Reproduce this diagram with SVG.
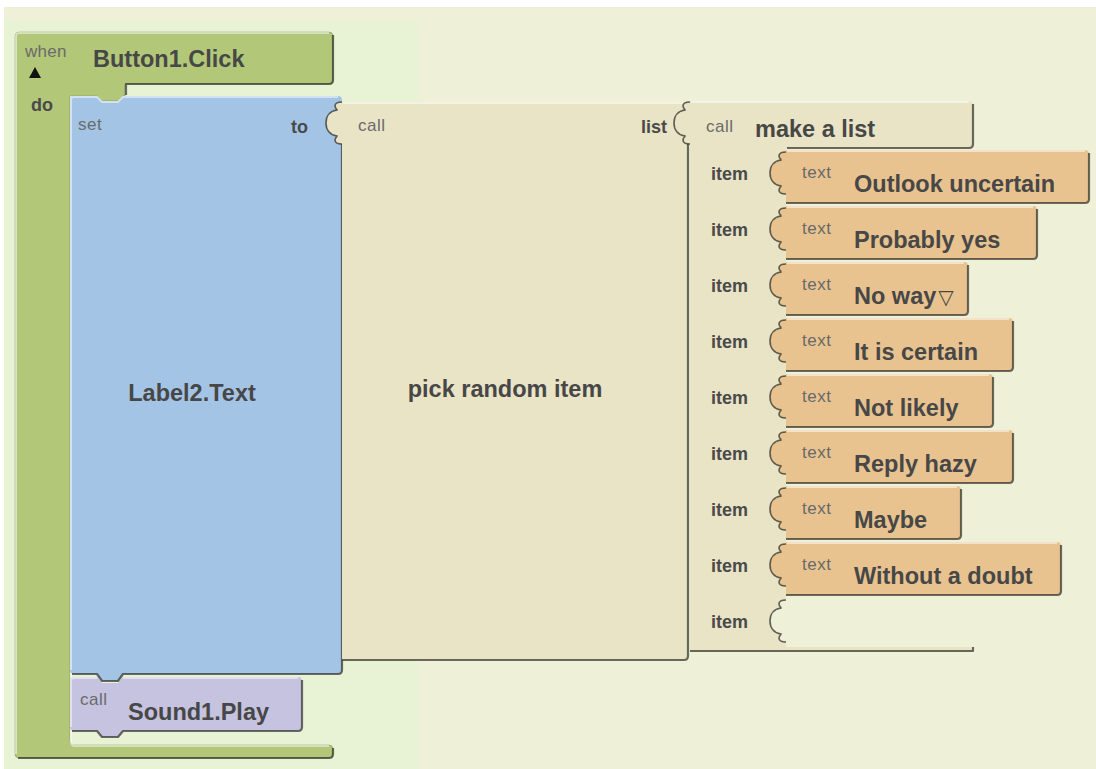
<svg xmlns="http://www.w3.org/2000/svg" xmlns:xlink="http://www.w3.org/1999/xlink" width="1096" height="769" viewBox="0 0 1096 769">
  <style>
    .lbl { font-family: "Liberation Sans", Arial, sans-serif; font-weight: bold; font-size: 23.5px; fill: #474747; }
    .kw { font-family: "Liberation Sans", Arial, sans-serif; font-weight: bold; font-size: 18px; fill: #4a4a4a; }
    .sm { font-family: "Liberation Sans", Arial, sans-serif; font-size: 17px; fill: #6a6a6a; letter-spacing: 0.5px; }
    .green { fill: #B2C878; }
    .blue { fill: #A4C4E6; }
    .beige { fill: #E9E4C5; }
    .orange { fill: #E8C38F; }
    .purple { fill: #C5C3DF; }
    .sh { fill: none; stroke: #2f2f2a; stroke-opacity: 0.7; stroke-width: 2.2; stroke-linejoin: round; }
    .hi { fill: none; stroke: #ffffff; stroke-opacity: 0.5; stroke-width: 2; }
    .edge { fill: none; stroke: #000; stroke-opacity: 0.18; stroke-width: 1; }
    .plug { stroke: #3a3a34; stroke-width: 1.6; stroke-opacity: 0.8; }
  </style>
  <defs>
    <!-- plug on the left side of a value block; open path so the block edge is not stroked -->
    <path id="tab" d="M0,2 C-4,2 -7,3 -7,6 C-7,8 -5,9 -5,10 C-12,11 -16,16 -16,23 C-16,30 -12,35 -5,36 C-5,37 -7,38 -7,40 C-7,43 -4,44 0,44"/>
  </defs>

  <!-- workspace -->
  <rect x="0" y="0" width="1096" height="769" fill="#ffffff"/>
  <rect x="4" y="7" width="1092" height="762" fill="#EEF1D8"/>
  <rect x="4" y="20" width="414" height="749" fill="#E8F2D4"/>

  <!-- event block -->
  <g id="when-button1-click">
    <path class="green" d="M15,36 Q15,32 19,32 H329 Q333,32 333,36 V80 Q333,84 329,84 H125 V96 H123 L118,101 H102 L97,96 H70 V741 Q70,745 74,745 H329 Q333,745 333,749 V754 Q333,758 329,758 H19 Q15,758 15,754 Z"/>
    <path class="edge" d="M15,36 Q15,32 19,32 H329 Q333,32 333,36 V80 Q333,84 329,84 H125 V96 H123 L118,101 H102 L97,96 H70 V741 Q70,745 74,745 H329 Q333,745 333,749 V754 Q333,758 329,758 H19 Q15,758 15,754 Z"/>
    <path class="hi" d="M16,754 V36 Q16,33 19,33 H329"/>
    <path class="hi" d="M71,96 V741 Q71,746 75,746 H329"/>
    <path class="sh" d="M333,35 V80 Q333,84 329,84 H126 V95"/>
    <path class="sh" d="M333,748 V754 Q333,758 329,758 H18"/>
    <text class="sm" x="25" y="57" style="font-size:17px;letter-spacing:0.3px">when</text>
    <path d="M29,78 L35,67 L41,78 Z" fill="#111"/>
    <text class="lbl" x="93" y="67">Button1.Click</text>
    <text class="kw" x="31" y="111">do</text>
  </g>

  <!-- call Sound1.Play -->
  <g id="sound1-play">
    <path class="purple" d="M70,681 Q70,677 74,677 H97 L102,683 H118 L123,677 H298 Q302,677 302,681 V727 Q302,731 298,731 H123 L118,737 H102 L97,731 H74 Q70,731 70,727 Z"/>
    <path class="hi" d="M71,727 V681 Q71,678 74,678 H97 M123,678 H298"/>
    <path class="sh" d="M302,680 V727 Q302,731 298,731 H123 L118,737 H102 L97,731 H72"/>
    <text class="sm" x="80" y="705">call</text>
    <text class="lbl" x="128" y="720">Sound1.Play</text>
  </g>

  <!-- set Label2.Text to -->
  <g id="set-label2-text">
    <path class="blue" d="M74,96 H97 L102,101 H118 L123,96 H338 Q342,96 342,100 V670 Q342,674 338,674 H123 L118,681 H102 L97,674 H74 Q70,674 70,670 V100 Q70,96 74,96 Z"/>
    <path class="hi" d="M71,670 V100 Q71,97 74,97 H97 L102,102 H118 L123,97 H338"/>
    <path class="sh" d="M342,140 V670 Q342,674 338,674 H123 L118,681 H102 L97,674 H72"/>
    <text class="sm" x="78" y="130">set</text>
    <text class="kw" x="291" y="133">to</text>
    <text class="lbl" x="192" y="401" text-anchor="middle">Label2.Text</text>
  </g>

  <!-- call pick random item -->
  <g id="pick-random-item">
    <path class="beige" d="M342,102 H684 Q688,102 688,106 V656 Q688,660 684,660 H342 Z"/>
    <path class="hi" d="M343,103 H684"/>
    <path class="sh" d="M688,144 V656 Q688,660 684,660 H342"/>
    <use href="#tab" transform="translate(342,100)" class="beige plug"/>
    <text class="sm" x="358" y="131">call</text>
    <text class="kw" x="641" y="133">list</text>
    <text class="lbl" x="505" y="397" text-anchor="middle">pick random item</text>
  </g>

  <!-- call make a list -->
  <g id="make-a-list">
    <path class="beige" d="M690,101 H969 Q973,101 973,105 V144 Q973,148 969,148 H786 V647 H971 Q973,647 973,649 V651 H690 Z"/>
    <path class="hi" d="M691,102 H969"/>
    <path class="sh" d="M973,104 V144 Q973,148 969,148 H787"/>
    <path class="sh" d="M690,651 H973 V647"/>
    <use href="#tab" transform="translate(690,100)" class="beige plug"/>
    <text class="sm" x="706" y="132">call</text>
    <text class="lbl" x="755" y="137">make a list</text>
    <text class="kw" x="711" y="180">item</text>
    <text class="kw" x="711" y="236">item</text>
    <text class="kw" x="711" y="292">item</text>
    <text class="kw" x="711" y="348">item</text>
    <text class="kw" x="711" y="404">item</text>
    <text class="kw" x="711" y="460">item</text>
    <text class="kw" x="711" y="516">item</text>
    <text class="kw" x="711" y="572">item</text>
    <text class="kw" x="711" y="628">item</text>
    <!-- empty item socket -->
    <use href="#tab" transform="translate(786,598)" fill="#EEF1D8" class="plug"/>
  </g>

  <!-- text values -->
  <g id="text-outlook-uncertain">
    <path class="orange" d="M786,150 H1085 Q1089,150 1089,154 V199 Q1089,203 1085,203 H786 Z"/>
    <path class="hi" d="M787,151 H1085"/>
    <path class="sh" d="M1089,153 V199 Q1089,203 1085,203 H786"/>
    <use href="#tab" transform="translate(786,150)" class="orange plug"/>
    <text class="sm" x="802" y="178">text</text>
    <text class="lbl" x="854" y="192">Outlook uncertain</text>
  </g>
  <g id="text-probably-yes">
    <path class="orange" d="M786,206 H1033 Q1037,206 1037,210 V255 Q1037,259 1033,259 H786 Z"/>
    <path class="hi" d="M787,207 H1033"/>
    <path class="sh" d="M1037,209 V255 Q1037,259 1033,259 H786"/>
    <use href="#tab" transform="translate(786,206)" class="orange plug"/>
    <text class="sm" x="802" y="234">text</text>
    <text class="lbl" x="854" y="248">Probably yes</text>
  </g>
  <g id="text-no-way">
    <path class="orange" d="M786,262 H964 Q968,262 968,266 V311 Q968,315 964,315 H786 Z"/>
    <path class="hi" d="M787,263 H964"/>
    <path class="sh" d="M968,265 V311 Q968,315 964,315 H786"/>
    <use href="#tab" transform="translate(786,262)" class="orange plug"/>
    <text class="sm" x="802" y="290">text</text>
    <text class="lbl" x="854" y="304">No way<tspan font-family="DejaVu Sans, sans-serif" font-size="20" dx="2">▽</tspan></text>
  </g>
  <g id="text-it-is-certain">
    <path class="orange" d="M786,318 H1009 Q1013,318 1013,322 V367 Q1013,371 1009,371 H786 Z"/>
    <path class="hi" d="M787,319 H1009"/>
    <path class="sh" d="M1013,321 V367 Q1013,371 1009,371 H786"/>
    <use href="#tab" transform="translate(786,318)" class="orange plug"/>
    <text class="sm" x="802" y="346">text</text>
    <text class="lbl" x="854" y="360">It is certain</text>
  </g>
  <g id="text-not-likely">
    <path class="orange" d="M786,374 H989 Q993,374 993,378 V423 Q993,427 989,427 H786 Z"/>
    <path class="hi" d="M787,375 H989"/>
    <path class="sh" d="M993,377 V423 Q993,427 989,427 H786"/>
    <use href="#tab" transform="translate(786,374)" class="orange plug"/>
    <text class="sm" x="802" y="402">text</text>
    <text class="lbl" x="854" y="416">Not likely</text>
  </g>
  <g id="text-reply-hazy">
    <path class="orange" d="M786,430 H1009 Q1013,430 1013,434 V479 Q1013,483 1009,483 H786 Z"/>
    <path class="hi" d="M787,431 H1009"/>
    <path class="sh" d="M1013,433 V479 Q1013,483 1009,483 H786"/>
    <use href="#tab" transform="translate(786,430)" class="orange plug"/>
    <text class="sm" x="802" y="458">text</text>
    <text class="lbl" x="854" y="472">Reply hazy</text>
  </g>
  <g id="text-maybe">
    <path class="orange" d="M786,486 H957 Q961,486 961,490 V535 Q961,539 957,539 H786 Z"/>
    <path class="hi" d="M787,487 H957"/>
    <path class="sh" d="M961,489 V535 Q961,539 957,539 H786"/>
    <use href="#tab" transform="translate(786,486)" class="orange plug"/>
    <text class="sm" x="802" y="514">text</text>
    <text class="lbl" x="854" y="528">Maybe</text>
  </g>
  <g id="text-without-a-doubt">
    <path class="orange" d="M786,542 H1057 Q1061,542 1061,546 V591 Q1061,595 1057,595 H786 Z"/>
    <path class="hi" d="M787,543 H1057"/>
    <path class="sh" d="M1061,545 V591 Q1061,595 1057,595 H786"/>
    <use href="#tab" transform="translate(786,542)" class="orange plug"/>
    <text class="sm" x="802" y="570">text</text>
    <text class="lbl" x="854" y="584">Without a doubt</text>
  </g>

  <g id="connectors"/>
</svg>
